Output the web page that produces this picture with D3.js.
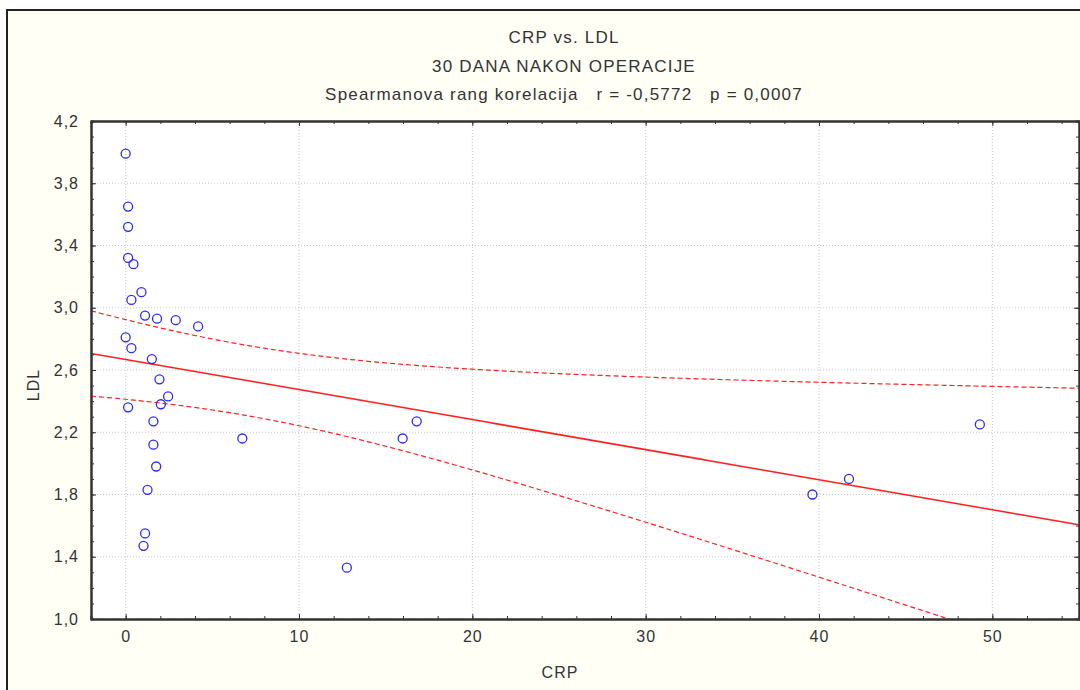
<!DOCTYPE html>
<meta charset="utf-8">
<style>
body { margin: 0; background: #fff; }
text {
  font-family: "Liberation Sans", Arial, sans-serif;
  fill: #333;
  white-space: pre;
}
.grid line { stroke: #c8c8c8; stroke-dasharray: 1,2; }
.axis path, .axis line { stroke: #333; }
</style>
<svg width="1080" height="690"></svg>
<script src="https://d3js.org/d3.v7.min.js"></script>
<script>

// CRP / LDL, 30 days after the operation
var crp = [0.0, 0.14, 0.14, 0.14, 0.45, 0.91, 0.33, 1.12, 1.81, 2.89, 4.18,
           0.0, 0.33, 1.51, 1.95, 2.45, 2.03, 0.14, 1.60, 1.60, 1.76, 1.26,
           1.12, 1.03, 6.73, 12.76, 15.98, 16.79, 39.62, 41.73, 49.28];
var ldl = [3.99, 3.65, 3.52, 3.32, 3.28, 3.10, 3.05, 2.95, 2.93, 2.92, 2.88,
           2.81, 2.74, 2.67, 2.54, 2.43, 2.38, 2.36, 2.27, 2.12, 1.98, 1.83,
           1.55, 1.47, 2.16, 1.33, 2.16, 2.27, 1.80, 1.90, 2.25];

var xTicks = [0, 10, 20, 30, 40, 50];
var yTicks = [1.0, 1.4, 1.8, 2.2, 2.6, 3.0, 3.4, 3.8, 4.2];
var titleLines = ["CRP vs. LDL", "30 DANA NAKON OPERACIJE",
                  "Spearmanova rang korelacija   r = -0,5772   p = 0,0007"];
var tCrit = 2.045; // t(0.975, df = 29)

var svg = d3.select("svg");
var pLeft = 91, pRight = 1079, pTop = 121, pBottom = 619;

var x = d3.scaleLinear().domain([-2, 55]).range([pLeft, pRight]);
var y = d3.scaleLinear().domain([1.0, 4.2]).range([pBottom, pTop]);

var comma = function(d) { return d3.format(".1f")(d).replace(".", ","); };

// outer frame
svg.append("rect")
    .attr("x", 7).attr("y", 10)
    .attr("width", 1090).attr("height", 700)
    .attr("fill", "#fffff6")
    .attr("stroke", "#222")
    .attr("stroke-width", 2);

svg.append("rect")
    .attr("x", pLeft).attr("y", pTop)
    .attr("width", pRight - pLeft).attr("height", pBottom - pTop)
    .attr("fill", "#fff");

// titles
svg.selectAll(".title")
    .data(titleLines)
  .enter().append("text")
    .attr("class", "title")
    .attr("x", 564)
    .attr("y", function(d, i) { return 43 + i * 28.5; })
    .attr("text-anchor", "middle")
    .style("font-size", "17px")
    .style("letter-spacing", "1.2px")
    .text(function(d) { return d; });

// grid
var grid = svg.append("g").attr("class", "grid");
grid.selectAll(".gx").data(xTicks).enter().append("line")
    .attr("x1", x).attr("x2", x).attr("y1", pTop).attr("y2", pBottom);
grid.selectAll(".gy").data(yTicks).enter().append("line")
    .attr("y1", y).attr("y2", y).attr("x1", pLeft).attr("x2", pRight);

// regression + 95% confidence band
var n = crp.length,
    mx = d3.mean(crp), my = d3.mean(ldl),
    sxx = d3.sum(crp, function(v) { return (v - mx) * (v - mx); }),
    sxy = d3.sum(crp, function(v, i) { return (v - mx) * (ldl[i] - my); }),
    slope = sxy / sxx,
    icpt = my - slope * mx,
    sse = d3.sum(crp, function(v, i) { var r = ldl[i] - (icpt + slope * v); return r * r; }),
    s = Math.sqrt(sse / (n - 2));

function fit(v) { return icpt + slope * v; }
function half(v) { return tCrit * s * Math.sqrt(1 / n + (v - mx) * (v - mx) / sxx); }

var xs = d3.range(-2, 55.01, 0.25);

svg.append("clipPath").attr("id", "clip")
  .append("rect")
    .attr("x", pLeft).attr("y", pTop)
    .attr("width", pRight - pLeft).attr("height", pBottom - pTop);

var lines = svg.append("g").attr("clip-path", "url(#clip)");
var line = function(f) {
  return d3.line().x(function(v) { return x(v); }).y(function(v) { return y(f(v)); })(xs);
};

lines.append("path")
    .attr("d", line(fit))
    .attr("fill", "none").attr("stroke", "#ff2020").attr("stroke-width", 1.6);
lines.append("path")
    .attr("d", line(function(v) { return fit(v) + half(v); }))
    .attr("fill", "none").attr("stroke", "#ff2020").attr("stroke-width", 1.2)
    .attr("stroke-dasharray", "5,3");
lines.append("path")
    .attr("d", line(function(v) { return fit(v) - half(v); }))
    .attr("fill", "none").attr("stroke", "#ff2020").attr("stroke-width", 1.2)
    .attr("stroke-dasharray", "5,3");

// points
svg.append("g").selectAll("circle")
    .data(crp)
  .enter().append("circle")
    .attr("cx", function(d) { return x(d); })
    .attr("cy", function(d, i) { return y(ldl[i]); })
    .attr("r", 4.5)
    .attr("fill", "none")
    .attr("stroke", "#2a2aff")
    .attr("stroke-width", 1.3);

// axes: ticks pointing inward on all four sides
var xMinor = d3.range(-2, 55, 2), yMinor = d3.range(10, 43).map(function(v) { return v / 10; });

function addAxis(axis, tx, ty) {
  var g = svg.append("g").attr("class", "axis")
      .attr("transform", "translate(" + tx + "," + ty + ")")
      .call(axis);
  g.selectAll("text").style("font-size", "16px").style("letter-spacing", "1px").attr("fill", "#333");
  g.select(".domain").attr("stroke-width", 2);
  return g;
}

addAxis(d3.axisBottom(x).tickValues(xMinor).tickSize(-3).tickFormat(""), 0, pBottom);
addAxis(d3.axisBottom(x).tickValues(xTicks).tickSizeInner(-5).tickSizeOuter(0)
    .tickPadding(12).tickFormat(d3.format("d")), 0, pBottom);
addAxis(d3.axisTop(x).tickValues(xMinor).tickSize(-3).tickFormat(""), 0, pTop);
addAxis(d3.axisTop(x).tickValues(xTicks).tickSizeInner(-5).tickSizeOuter(0).tickFormat(""), 0, pTop);

addAxis(d3.axisLeft(y).tickValues(yMinor).tickSize(-3).tickFormat(""), pLeft, 0);
addAxis(d3.axisLeft(y).tickValues(yTicks).tickSizeInner(-5).tickSizeOuter(0)
    .tickPadding(12).tickFormat(comma), pLeft, 0);
addAxis(d3.axisRight(y).tickValues(yMinor).tickSize(-3).tickFormat(""), pRight, 0);
addAxis(d3.axisRight(y).tickValues(yTicks).tickSizeInner(-5).tickSizeOuter(0).tickFormat(""), pRight, 0);

// axis titles
svg.append("text")
    .attr("x", 560).attr("y", 678)
    .attr("text-anchor", "middle")
    .style("font-size", "16px")
    .style("letter-spacing", "1px")
    .text("CRP");

svg.append("text")
    .attr("transform", "translate(39,385) rotate(-90)")
    .attr("text-anchor", "middle")
    .style("font-size", "16px")
    .style("letter-spacing", "1px")
    .text("LDL");

</script>
